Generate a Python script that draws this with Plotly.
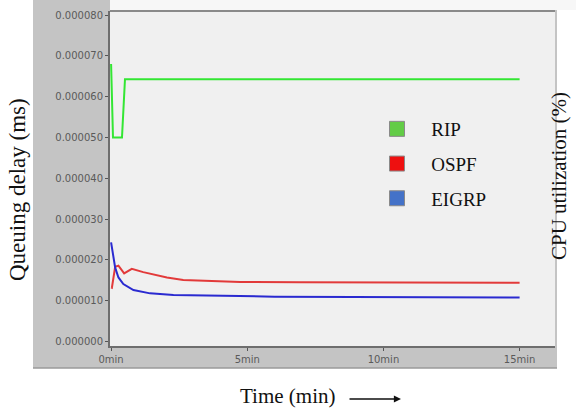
import plotly.graph_objects as go

# ---- data (time in minutes, queuing delay in ms) ----
rip_t = [0, 0.07, 0.40, 0.51, 15]
rip_v = [0.000068, 0.000050, 0.000050, 0.0000643, 0.0000643]

ospf_t = [0, 0.03, 0.15, 0.27, 0.48, 0.76, 1.18, 2.05, 2.65, 3.64, 4.74, 6.95, 15]
ospf_v = [0.0000133, 0.0000132, 0.0000183, 0.0000186, 0.0000167, 0.0000178, 0.0000170,
          0.0000157, 0.0000151, 0.0000148, 0.0000146, 0.0000145, 0.0000144]

eigrp_t = [0, 0.06, 0.15, 0.27, 0.45, 0.82, 1.43, 2.29, 3.64, 6.0, 15]
eigrp_v = [0.0000243, 0.0000215, 0.0000181, 0.0000157, 0.0000141, 0.0000126,
           0.0000118, 0.0000114, 0.0000112, 0.0000110, 0.0000108]

series_names = ["RIP", "OSPF", "EIGRP"]
line_colors = ["#33e633", "#e23a3a", "#2a2ad0"]
swatch_colors = ["#62cc46", "#ee1010", "#4472c8"]

y_tickvals = [0, 0.00001, 0.00002, 0.00003, 0.00004, 0.00005, 0.00006, 0.00007, 0.00008]
x_tickvals = [0, 5, 10, 15]
x_ticktext = ["0min", "5min", "10min", "15min"]

# ---- layout geometry helpers (pixel -> paper) ----
W, H = 576, 409
L, R, T, B = 110, 555, 11, 346


def px(x):
    return (x - L) / (R - L)


def py(y):
    return (B - y) / (B - T)


fig = go.Figure()
for name, t, v, c in zip(series_names, [rip_t, ospf_t, eigrp_t],
                         [rip_v, ospf_v, eigrp_v], line_colors):
    fig.add_trace(go.Scatter(x=t, y=v, mode="lines", line=dict(color=c, width=2),
                             showlegend=False, legendgroup=name, hoverinfo="skip"))
for name, c in zip(series_names, swatch_colors):
    fig.add_trace(go.Scatter(x=[None], y=[None], mode="markers", name="   " + name,
                             legendgroup=name,
                             marker=dict(symbol="square", size=15, color=c,
                                         line=dict(color="#8a8a8a", width=1))))

tickfont = dict(family="DejaVu Sans", size=10, color="#5a5a5a")
fig.update_xaxes(range=[-0.04, 16.3], tickvals=x_tickvals, ticktext=x_ticktext,
                 showgrid=False, zeroline=False, showline=True, linecolor="#6e6e6e",
                 linewidth=2, ticks="outside", ticklen=3, tickcolor="#555",
                 tickfont=tickfont)
fig.update_yaxes(range=[-0.0000011, 0.000081], tickvals=y_tickvals, tickformat=".6f",
                 showgrid=False, zeroline=False, showline=True, linecolor="#6e6e6e",
                 linewidth=2, ticks="outside", ticklen=3, tickcolor="#555",
                 tickfont=tickfont)

shapes = [
    # gray frame
    dict(type="rect", xref="paper", yref="paper", x0=px(33), x1=px(557), y0=py(368), y1=py(-3),
         fillcolor="#c4c4c4", line=dict(width=0), layer="below"),
    dict(type="line", xref="paper", yref="paper", x0=px(33), x1=px(557), y0=py(368), y1=py(368),
         line=dict(color="#9a9a9a", width=1.5), layer="below"),
    # white top strip
    dict(type="rect", xref="paper", yref="paper", x0=px(110), x1=px(577), y0=py(10), y1=py(-3),
         fillcolor="#f7f7f7", line=dict(width=0), layer="below"),
    # light plot area
    dict(type="rect", xref="paper", yref="paper", x0=0, x1=1, y0=0, y1=1,
         fillcolor="#f0f0f0", line=dict(width=0), layer="below"),
    # top border
    dict(type="line", xref="paper", yref="paper", x0=0, x1=1, y0=1, y1=1,
         line=dict(color="#8a8a8a", width=2), layer="above"),
]

serif = "Liberation Serif"
annotations = [
    dict(text="Queuing delay (ms)", xref="paper", yref="paper", x=px(17), y=py(190),
         showarrow=False, textangle=-90, font=dict(family=serif, size=23, color="#111"),
         xanchor="center", yanchor="middle"),
    dict(text="CPU utilization (%)", xref="paper", yref="paper", x=px(559), y=py(176),
         showarrow=False, textangle=-90, font=dict(family=serif, size=21, color="#111"),
         xanchor="center", yanchor="middle"),
    dict(text="Time (min)", xref="paper", yref="paper", x=px(287), y=py(396),
         showarrow=False, font=dict(family=serif, size=21, color="#111"),
         xanchor="center", yanchor="middle"),
    dict(text="", xref="paper", yref="paper", x=px(401), y=py(399),
         ax=-53, ay=0, showarrow=True, arrowhead=2, arrowsize=1.1, arrowwidth=1.3,
         arrowcolor="#111"),
]

fig.update_layout(
    width=W, height=H,
    margin=dict(l=L, r=W - R, t=T, b=H - B),
    paper_bgcolor="white", plot_bgcolor="rgba(0,0,0,0)",
    shapes=shapes, annotations=annotations,
    legend=dict(x=px(377), y=py(110), xanchor="left", yanchor="top",
                bgcolor="rgba(0,0,0,0)", font=dict(family=serif, size=19, color="#111"),
                tracegroupgap=7, itemwidth=30, traceorder="grouped"),
)

fig.write_html("out.html", config={"displayModeBar": False},
               post_script="document.body.style.margin='0';document.body.style.overflow='hidden';")
